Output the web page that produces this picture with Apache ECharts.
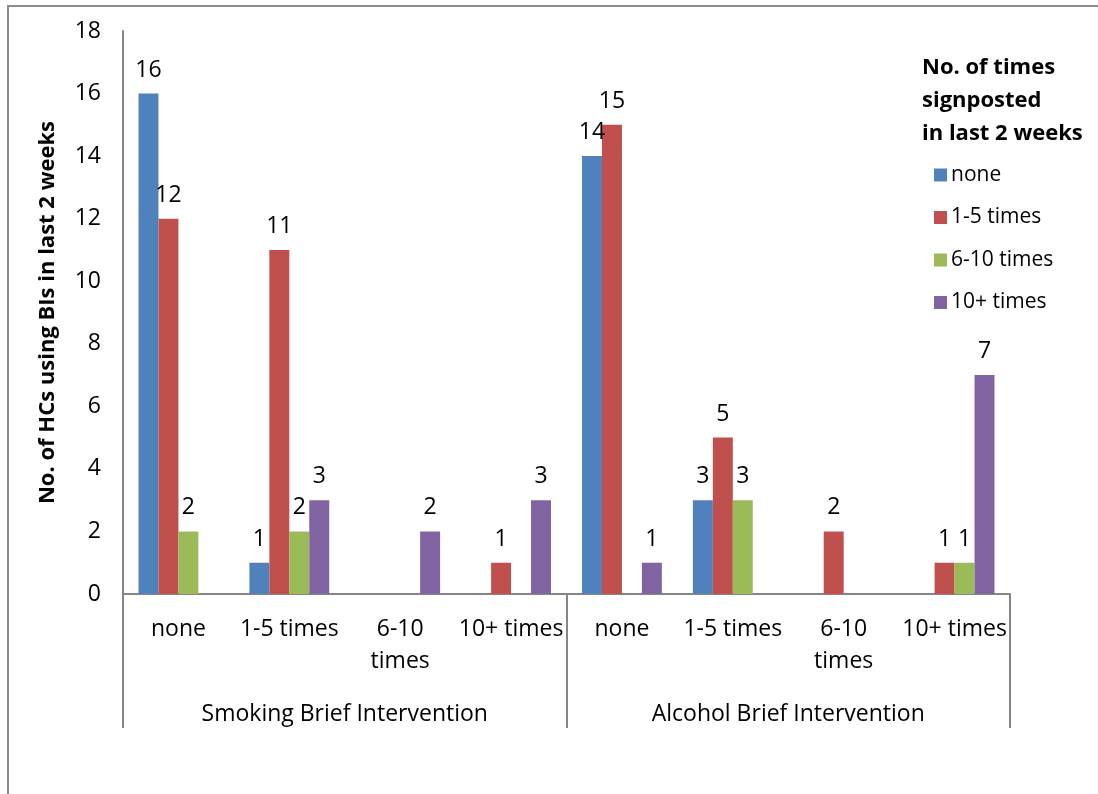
<!DOCTYPE html>
<html>
<head>
<meta charset="utf-8">
<script src="https://cdn.jsdelivr.net/npm/echarts@6/dist/echarts.min.js"></script>
<style>html,body{margin:0;padding:0;background:#fff;}#c{width:1098px;height:794px;}</style>
</head>
<body>
<div id="c"></div>
<script>
var categories = ['none', '1-5 times', '6-10 times', '10+ times', 'none', '1-5 times', '6-10 times', '10+ times'];
var groups = ['Smoking Brief Intervention', 'Alcohol Brief Intervention'];
var seriesNames = ['none', '1-5 times', '6-10 times', '10+ times'];
var valsNone = [16, 1, 0, 0, 14, 3, 0, 0];
var vals1to5 = [12, 11, 0, 1, 15, 5, 2, 1];
var vals6to10 = [2, 2, 0, 0, 0, 3, 0, 1];
var vals10plus = [0, 3, 2, 3, 1, 0, 0, 7];
var colors = ['#4F81BD', '#C0504D', '#9BBB59', '#8064A2'];
var yTicks = [0, 2, 4, 6, 8, 10, 12, 14, 16, 18];

var FONT = 'Open Sans';
var FS = 23;
var chart = echarts.init(document.getElementById('c'));
var allVals = [valsNone, vals1to5, vals6to10, vals10plus];
var series = allVals.map(function (d, i) {
  return {
    name: seriesNames[i],
    type: 'bar',
    data: d,
    xAxisIndex: 0,
    barGap: '0%',
    barCategoryGap: '28%',
    itemStyle: { color: colors[i] },
    label: {
      show: true, position: 'top', distance: 12, color: '#000', fontFamily: FONT, fontSize: FS,
      formatter: function (p) { return p.value === 0 ? '' : p.value; }
    }
  };
});
chart.setOption({
  animation: false,
  textStyle: { fontFamily: FONT },
  grid: { left: 123, right: 88, top: 31, bottom: 200, containLabel: false },
  title: {
    text: 'No. of times\nsignposted\nin last 2 weeks',
    left: 917, top: 46,
    textStyle: { fontFamily: FONT, fontSize: 22, fontWeight: 'bold', color: '#000', lineHeight: 33 }
  },
  legend: {
    orient: 'vertical', left: 929, top: 159,
    itemWidth: 13, itemHeight: 13, itemGap: 20.5,
    icon: 'rect',
    data: seriesNames,
    textStyle: { fontFamily: FONT, fontSize: 21, lineHeight: 22, color: '#000', padding: [0, 0, 0, -1] }
  },
  xAxis: [{
    type: 'category', data: categories, position: 'bottom',
    axisLine: { lineStyle: { color: '#868686', width: 2 } },
    axisTick: { show: false },
    axisLabel: {
      color: '#000', fontSize: FS, fontFamily: FONT, margin: 19, lineHeight: 32, interval: 0,
      formatter: function (v) { return v === '6-10 times' ? '6-10\ntimes' : v; }
    }
  }, {
    type: 'category', data: groups, position: 'bottom',
    axisLine: { show: false },
    axisTick: { show: true, length: 134, lineStyle: { color: '#868686', width: 2 } },
    axisLabel: { color: '#000', fontSize: FS, fontFamily: FONT, margin: 109, interval: 0 }
  }],
  yAxis: {
    type: 'value', min: 0, max: 18, interval: 2,
    name: 'No. of HCs using BIs in last 2 weeks', nameLocation: 'middle', nameGap: 64,
    nameTextStyle: { fontFamily: FONT, fontSize: 22, fontWeight: 'bold', color: '#000' },
    axisLine: { show: true, lineStyle: { color: '#868686', width: 2 } },
    axisTick: { show: false },
    splitLine: { show: false },
    axisLabel: { color: '#000', fontSize: FS, fontFamily: FONT, margin: 22 }
  },
  series: series.concat([{
    type: 'bar', xAxisIndex: 1, data: [null, null], silent: true
  }]),
  graphic: [
    { type: 'line', shape: { x1: 7, y1: 6, x2: 1098, y2: 6 }, style: { stroke: '#8c8c8c', lineWidth: 2 } },
    { type: 'line', shape: { x1: 8, y1: 6, x2: 8, y2: 794 }, style: { stroke: '#8c8c8c', lineWidth: 2 } }
  ]
});
</script>
</body>
</html>
